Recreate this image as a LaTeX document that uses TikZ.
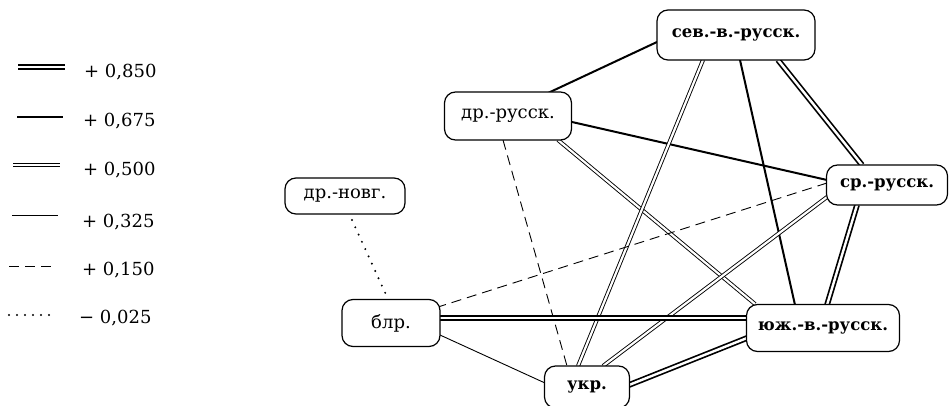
\documentclass[tikz,border=0pt]{standalone}
\usepackage{fontspec}
\setmainfont{DejaVu Serif}
\usetikzlibrary{calc,backgrounds}
\begin{document}
\begin{tikzpicture}[x=1pt,y=-1pt,
  box/.style={draw,line width=1.2pt,rounded corners=11pt,fill=white,inner sep=0pt,
    font=\fontsize{18}{20}\selectfont},
  heavy/.style={font=\fontsize{16.5}{20}\selectfont\bfseries},
  wone/.style={line width=2pt},                                % +0,675
  wtwo/.style={line width=0.9pt},                              % +0,325
  dbl/.style={double distance=2.2pt,line width=0.9pt},         % +0,500
  dblheavy/.style={double distance=2.4pt,line width=1.7pt},    % +0,850
  dsh/.style={line width=0.9pt,dash pattern=on 10pt off 6pt},  % +0,150
  dts/.style={line width=2.2pt,line cap=round,dash pattern=on 0pt off 8pt}, % -0,025
  lab/.style={anchor=west,inner sep=0pt,font=\fontsize{18}{20}\selectfont}
]
\useasboundingbox (0,0) rectangle (949,406);

% legend
\coordinate (a1) at (18,67);  \coordinate (b1) at (65,67);
\coordinate (a2) at (17,117); \coordinate (b2) at (63,117);
\coordinate (a3) at (13,165); \coordinate (b3) at (60,165);
\coordinate (a4) at (12,215); \coordinate (b4) at (58,215);
\coordinate (a5) at (9,266);  \coordinate (b5) at (55,266);
\coordinate (a6) at (9,315);  \coordinate (b6) at (53,315);
\draw[dblheavy] (a1) -- (b1);
\draw[wone] (a2) -- (b2);
\draw[dbl] (a3) -- (b3);
\draw[wtwo] (a4) -- (b4);
\draw[dsh] (a5) -- (b5);
\draw[dts] (a6) -- (b6);
\node[lab] (t1) at (84,72)  {+ 0,850};
\node[lab] (t2) at (83,121) {+ 0,675};
\node[lab] (t3) at (83,170) {+ 0,500};
\node[lab] (t4) at (82,222) {+ 0,325};
\node[lab] (t5) at (82,270) {+ 0,150};
\node[lab] (t6) at (79,318) {− 0,025};

% dialect groups
\node[box,heavy,minimum width=158pt,minimum height=50pt] (sev) at (736,35) {сев.-в.-русск.};
\node[box,minimum width=127pt,minimum height=48pt] (dr) at (508,116) {др.-русск.};
\node[box,heavy,minimum width=121pt,minimum height=40pt] (sr) at (887,185) {ср.-русск.};
\node[box,minimum width=120pt,minimum height=36pt] (nov) at (345,196) {др.-новг.};
\node[box,minimum width=98pt,minimum height=47pt] (blr) at (391,323) {блр.};
\node[box,heavy,minimum width=153pt,minimum height=47pt] (ujv) at (823,328) {юж.-в.-русск.};
\node[box,heavy,minimum width=85pt,minimum height=42pt] (ukr) at (587,387) {укр.};

% correlations
\begin{scope}[on background layer]
\draw[wone] ($(dr)+(40,-23)$) -- ($(sev)+(-79,7)$);
\draw[wone] ($(dr)+(64,6)$) -- ($(sr)+(-60,-5)$);
\draw[dbl] ($(dr)+(50,24)$) -- ($(ujv)+(-68,-24)$);
\draw[dsh] ($(dr)+(-5,24)$) -- ($(ukr)+(-20,-21)$);
\draw[dbl] ($(sev)+(-33,25)$) -- ($(ukr)+(-9,-21)$);
\draw[wone] ($(sev)+(4,25)$) -- ($(ujv)+(-28,-23)$);
\draw[dblheavy] ($(sev)+(42,25)$) -- ($(sr)+(-25,-20)$);
\draw[dblheavy] ($(sr)+(-30,20)$) -- ($(ujv)+(4,-23)$);
\draw[dsh] ($(sr)+(-60,-2)$) -- ($(blr)+(47,-16)$);
\draw[dbl] ($(sr)+(-60,12)$) -- ($(ukr)+(16,-21)$);
\draw[dblheavy] ($(blr)+(49,-5)$) -- ($(ujv)+(-76,-10)$);
\draw[wtwo] ($(blr)+(49,12)$) -- ($(ukr)+(-42,-4)$);
\draw[dblheavy] ($(ukr)+(42,-2)$) -- ($(ujv)+(-76,10)$);
\draw[dts] ($(nov)+(7,24)$) -- ($(blr)+(-3,-24)$);
\end{scope}
\end{tikzpicture}
\end{document}
